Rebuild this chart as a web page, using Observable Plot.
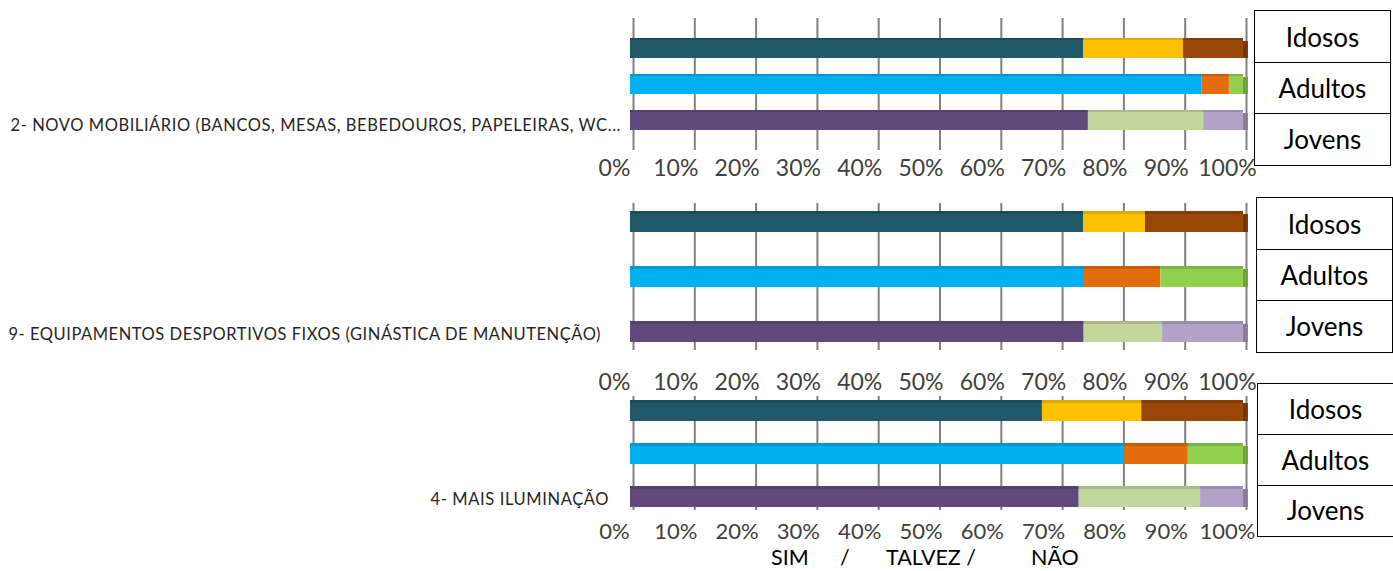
<!DOCTYPE html>
<html>
<head>
<meta charset="utf-8">
<script src="https://cdn.jsdelivr.net/npm/d3@7"></script>
<script src="https://cdn.jsdelivr.net/npm/@observablehq/plot@0.6"></script>
<style>
  html, body { margin: 0; padding: 0; background: #fff; }
  #wrap { position: relative; width: 1393px; height: 571px; overflow: hidden; font-family: Lato, "Open Sans", sans-serif; }
  #wrap svg { position: absolute; left: 0; top: 0; }
  .box { position: absolute; border: 1.5px solid #000; box-sizing: border-box; width: 137px; }
  .box .row { display: flex; align-items: center; justify-content: center; box-sizing: border-box; font-size: 26px; color: #000; }
  .box .row + .row { border-top: 1.5px solid #000; }
  .foot { position: absolute; top: 545px; font-size: 21.5px; color: #000; white-space: pre; line-height: 24px; }
</style>
</head>
<body>
<div id="wrap"></div>
<script>
// ---- data ----
const questions = [
  "2- NOVO MOBILIÁRIO (BANCOS, MESAS, BEBEDOUROS, PAPELEIRAS, WC...",
  "9- EQUIPAMENTOS DESPORTIVOS FIXOS (GINÁSTICA DE MANUTENÇÃO)",
  "4- MAIS ILUMINAÇÃO"
];
const groups = ["Idosos", "Adultos", "Jovens"];
const answers = ["SIM", "TALVEZ", "NÃO"];
// per question: [Idosos, Adultos, Jovens]
const simValues    = [[73.9, 93.2, 74.7], [73.9, 73.9, 74.0], [67.2, 80.6, 73.2]];
const talvezValues = [[16.3,  4.5, 18.8], [10.1, 12.6, 12.8], [16.2, 10.4, 19.8]];
const naoValues    = [[ 9.8,  2.3,  6.5], [16.0, 13.5, 13.2], [16.6,  9.0,  7.0]];
const tickValues = [0, 10, 20, 30, 40, 50, 60, 70, 80, 90, 100];
const footerWords = ["SIM", "/", "TALVEZ /", "NÃO"];

// ---- styles ----
const palette = {
  Idosos:  ["#215968", "#FFC000", "#984807"],
  Adultos: ["#00B0F0", "#E46C0A", "#92D050"],
  Jovens:  ["#604A7B", "#C3D69B", "#B3A2C7"]
};
const W = 1393, H = 571, xLeft = 630, xRight = 1243, barH = 21;
const layout = [
  {top: 18,  bottom: 150, pIn: 0.432, pOut: 0.50,  labelY: 168, tickFont: 23, qDx: -10, qDy: 5, qWidth: 610, left: ["Jovens"], right: ["Jovens"]},
  {top: 203, bottom: 350, pIn: 0.618, pOut: 0.145, labelY: 382, tickFont: 23, qDx: -30, qDy: 3, qWidth: 592, left: groups, right: groups},
  {top: 396, bottom: 510, pIn: 0.517, pOut: 0.07,  labelY: 531, tickFont: 22, qDx: -22, qDy: 3, qWidth: 178, left: ["Adultos", "Jovens"], right: groups}
];
const boxes = [
  {left: 1254, top: 10,  height: 156},
  {left: 1256, top: 197, height: 156},
  {left: 1257, top: 383, height: 154}
];
const footerX = [771, 840, 886, 1031];

const wrap = document.getElementById("wrap");
const darker = c => d3.color(c).darker(0.7).formatHex();

questions.forEach((q, qi) => {
  const L = layout[qi];
  const rows = [];
  groups.forEach((g, gi) => {
    const vals = [simValues[qi][gi], talvezValues[qi][gi], naoValues[qi][gi]];
    answers.forEach((a, ai) => rows.push({question: q, group: g, answer: a, value: vals[ai], color: palette[g][ai]}));
  });
  const totals = groups.map((g, gi) => ({
    group: g,
    total: simValues[qi][gi] + talvezValues[qi][gi] + naoValues[qi][gi],
    color: darker(palette[g][2])
  }));

  const chart = Plot.plot({
    width: W, height: H,
    marginLeft: xLeft, marginRight: W - xRight,
    marginTop: L.top, marginBottom: H - L.bottom,
    x: {domain: [0, 100], axis: null},
    y: {domain: groups, axis: null, paddingInner: L.pIn, paddingOuter: L.pOut},
    color: {type: "identity"},
    style: {background: "transparent", overflow: "visible", fontFamily: "Lato, 'Open Sans', sans-serif"},
    marks: [
      // back grid
      Plot.ruleX(tickValues, {x: d => d, stroke: "#808080", strokeWidth: 2, dx: 3}),
      // side walls
      Plot.ruleX(L.left, {x: () => 0, y: d => d, dx: -7, stroke: "#a8a8a8", strokeWidth: 2, insetTop: -6, insetBottom: -6}),
      Plot.ruleX(L.right, {x: () => 100, y: d => d, dx: 8, stroke: "#b0b0b0", strokeWidth: 2.5, insetTop: -6, insetBottom: -6}),
      // bars
      Plot.barX(rows, Plot.stackX({x: "value", y: "group", fill: "color"})),
      // 3D top edge
      Plot.barX(rows, Plot.stackX({x: "value", y: "group", fill: d => darker(d.color), insetBottom: barH - 3, fillOpacity: 0.6})),
      // end caps
      Plot.barX(totals, {x1: "total", x2: d => d.total + 0.8, y: "group", fill: "color", insetTop: 3}),
      // tick labels
      Plot.text(tickValues, {x: d => d, frameAnchor: "bottom", lineAnchor: "middle", dy: L.labelY - L.bottom, dx: -16,
        text: d => d + "%", fontSize: L.tickFont, fill: "#404040"}),
      // question label
      Plot.text([q], {x: () => 0, y: () => "Jovens", dx: L.qDx, dy: L.qDy, textAnchor: "end", fontSize: 16.5, fill: "#262626", text: d => d})
    ]
  });
  chart.querySelectorAll("text").forEach(t => {
    if (t.textContent === q) {
      t.setAttribute("textLength", L.qWidth);
      t.setAttribute("lengthAdjust", "spacing");
    }
  });
  wrap.appendChild(chart);
});

boxes.forEach(b => {
  const el = document.createElement("div");
  el.className = "box";
  el.style.left = b.left + "px";
  el.style.top = b.top + "px";
  el.style.height = b.height + "px";
  groups.forEach(g => {
    const r = document.createElement("div");
    r.className = "row";
    r.style.height = ((b.height - 3) / 3) + "px";
    r.textContent = g;
    el.appendChild(r);
  });
  wrap.appendChild(el);
});

footerWords.forEach((w, i) => {
  const el = document.createElement("div");
  el.className = "foot";
  el.style.left = footerX[i] + "px";
  el.textContent = w;
  wrap.appendChild(el);
});
</script>
</body>
</html>
